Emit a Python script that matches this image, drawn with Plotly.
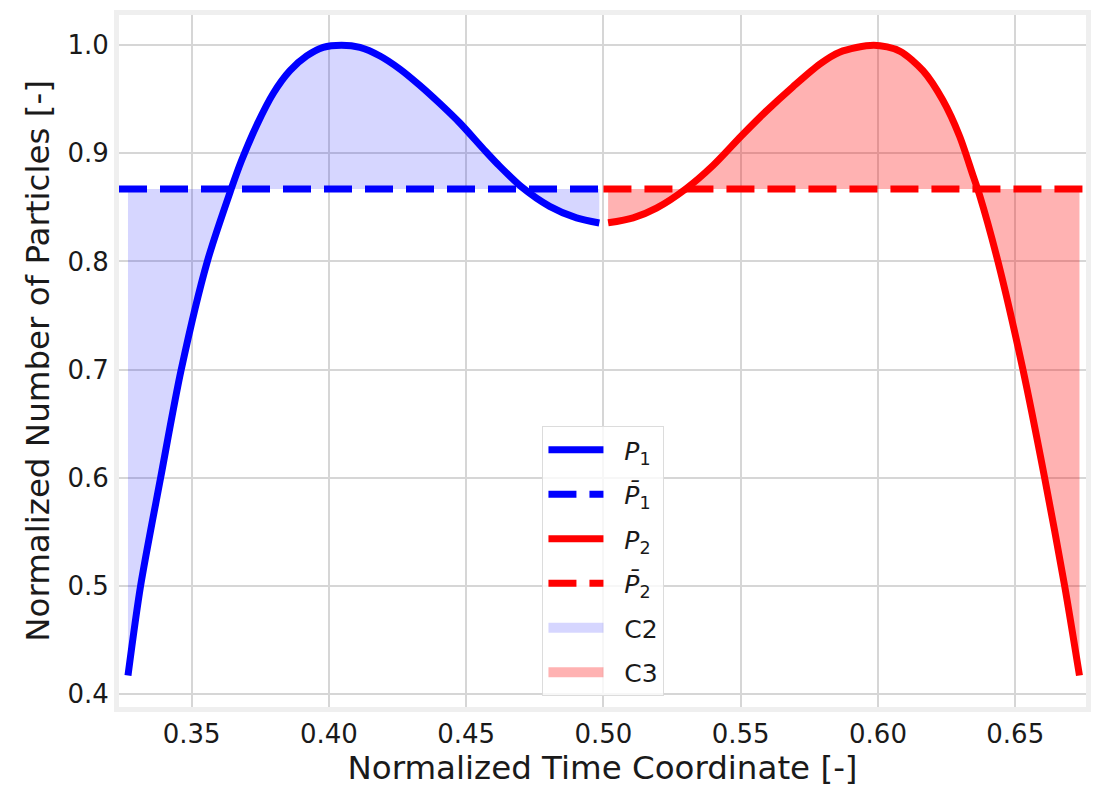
import plotly.graph_objects as go

# Normalized time coordinate and particle count, first half (P1)
p1_x = [0.3268, 0.3314, 0.3387, 0.3462, 0.3557, 0.3644, 0.3682, 0.3737, 0.3797,
        0.3858, 0.3919, 0.3979, 0.4046, 0.4113, 0.4186, 0.4258, 0.4331, 0.4404,
        0.4477, 0.4562, 0.4616, 0.4701, 0.4804, 0.4902, 0.4985]
p1_y = [0.417, 0.500, 0.600, 0.700, 0.800, 0.867, 0.8935, 0.926, 0.9553,
        0.9764, 0.990, 0.998, 1.000, 0.998, 0.990, 0.978, 0.9628, 0.946,
        0.928, 0.9042, 0.8896, 0.869, 0.8509, 0.8402, 0.8355]

# Second half (P2)
p2_x = [0.5017, 0.5108, 0.5193, 0.5302, 0.5399, 0.5502, 0.5593, 0.5690, 0.5788,
        0.5860, 0.5985, 0.6079, 0.6164, 0.6236, 0.6297, 0.6346, 0.6370,
        0.6437, 0.6528, 0.6607, 0.6680, 0.6734]
p2_y = [0.8357, 0.8403, 0.8493, 0.8675, 0.8887, 0.9160, 0.9390, 0.9615, 0.9825,
        0.9935, 1.000, 0.9946, 0.9764, 0.9492, 0.916, 0.8796, 0.8615,
        0.800, 0.700, 0.600, 0.500, 0.417]

# Mean levels of each half
p1_mean = 0.867
p2_mean = 0.867

x_range = [0.32353, 0.67578]
y_range = [0.3879, 1.0279]
x_ticks = [0.35, 0.40, 0.45, 0.50, 0.55, 0.60, 0.65]
y_ticks = [0.4, 0.5, 0.6, 0.7, 0.8, 0.9, 1.0]

BLUE = "#0000ff"
RED = "#ff0000"
C2_FILL = "rgba(0,0,255,0.16)"
C3_FILL = "rgba(255,0,0,0.30)"
FONT = "DejaVu Sans"
TEXT = "#1a1a1a"
LW = 7
DASH = "28px,13px"
SMOOTH = 0.8
GAP = "&nbsp;&nbsp;"  # spacing between legend swatch and label

fig = go.Figure()

# Shaded areas between each curve and its mean
fig.add_trace(go.Scatter(x=[p1_x[0], p1_x[-1]], y=[p1_mean, p1_mean], mode="lines",
                         line=dict(width=0, color=C2_FILL), showlegend=False,
                         hoverinfo="skip"))
fig.add_trace(go.Scatter(x=p1_x, y=p1_y, mode="lines", showlegend=False,
                         line=dict(width=0, shape="spline", smoothing=SMOOTH, color=C2_FILL),
                         fill="tonexty", fillcolor=C2_FILL, hoverinfo="skip"))
fig.add_trace(go.Scatter(x=[p2_x[0], p2_x[-1]], y=[p2_mean, p2_mean], mode="lines",
                         line=dict(width=0, color=C3_FILL), showlegend=False,
                         hoverinfo="skip"))
fig.add_trace(go.Scatter(x=p2_x, y=p2_y, mode="lines", showlegend=False,
                         line=dict(width=0, shape="spline", smoothing=SMOOTH, color=C3_FILL),
                         fill="tonexty", fillcolor=C3_FILL, hoverinfo="skip"))

# Mean lines
fig.add_trace(go.Scatter(x=[x_range[0], 0.5], y=[p1_mean, p1_mean], mode="lines",
                         name=GAP + "<i>P̄</i><sub>1</sub>", legendgroup="g2", legendrank=2,
                         line=dict(color=BLUE, width=LW, dash=DASH)))
fig.add_trace(go.Scatter(x=[0.5, x_range[1]], y=[p2_mean, p2_mean], mode="lines",
                         name=GAP + "<i>P̄</i><sub>2</sub>", legendgroup="g4", legendrank=4,
                         line=dict(color=RED, width=LW, dash=DASH)))

# Particle curves
fig.add_trace(go.Scatter(x=p1_x, y=p1_y, mode="lines", name=GAP + "<i>P</i><sub>1</sub>",
                         legendgroup="g1", legendrank=1,
                         line=dict(color=BLUE, width=LW, shape="spline", smoothing=SMOOTH)))
fig.add_trace(go.Scatter(x=p2_x, y=p2_y, mode="lines", name=GAP + "<i>P</i><sub>2</sub>",
                         legendgroup="g3", legendrank=3,
                         line=dict(color=RED, width=LW, shape="spline", smoothing=SMOOTH)))

# Legend swatches for the shaded areas
fig.add_trace(go.Scatter(x=[None], y=[None], mode="lines", name=GAP + "C2",
                         legendgroup="g5", legendrank=5,
                         line=dict(color=C2_FILL, width=19)))
fig.add_trace(go.Scatter(x=[None], y=[None], mode="lines", name=GAP + "C3",
                         legendgroup="g6", legendrank=6,
                         line=dict(color=C3_FILL, width=19)))

axis_common = dict(
    showgrid=True, gridcolor="#d6d6d6", gridwidth=1.5,
    showline=True, linecolor="#efefef", linewidth=5, mirror=True,
    zeroline=False, ticks="", tickfont=dict(family=FONT, size=26, color=TEXT),
)

fig.update_xaxes(range=x_range, tickvals=x_ticks, ticktext=[f"{v:.2f}" for v in x_ticks],
                 title=dict(text="Normalized Time Coordinate [-]",
                            font=dict(family=FONT, size=32.5, color=TEXT), standoff=8),
                 **axis_common)
fig.update_yaxes(range=y_range, tickvals=y_ticks, ticktext=[f"{v:.1f}" for v in y_ticks],
                 title=dict(text="Normalized Number of Particles [-]",
                            font=dict(family=FONT, size=32.5, color=TEXT), standoff=10),
                 **axis_common)

fig.update_layout(
    width=1102, height=790,
    margin=dict(l=119, r=16, t=10, b=75),
    paper_bgcolor="white", plot_bgcolor="white",
    font=dict(family=FONT, color=TEXT),
    legend=dict(x=0.4379, y=0.406, xanchor="left", yanchor="top",
                bgcolor="rgba(255,255,255,0.8)", bordercolor="#dcdcdc", borderwidth=1,
                font=dict(family=FONT, size=25, color=TEXT),
                itemwidth=55, traceorder="grouped", tracegroupgap=9),
)

fig.write_html("out.html")
